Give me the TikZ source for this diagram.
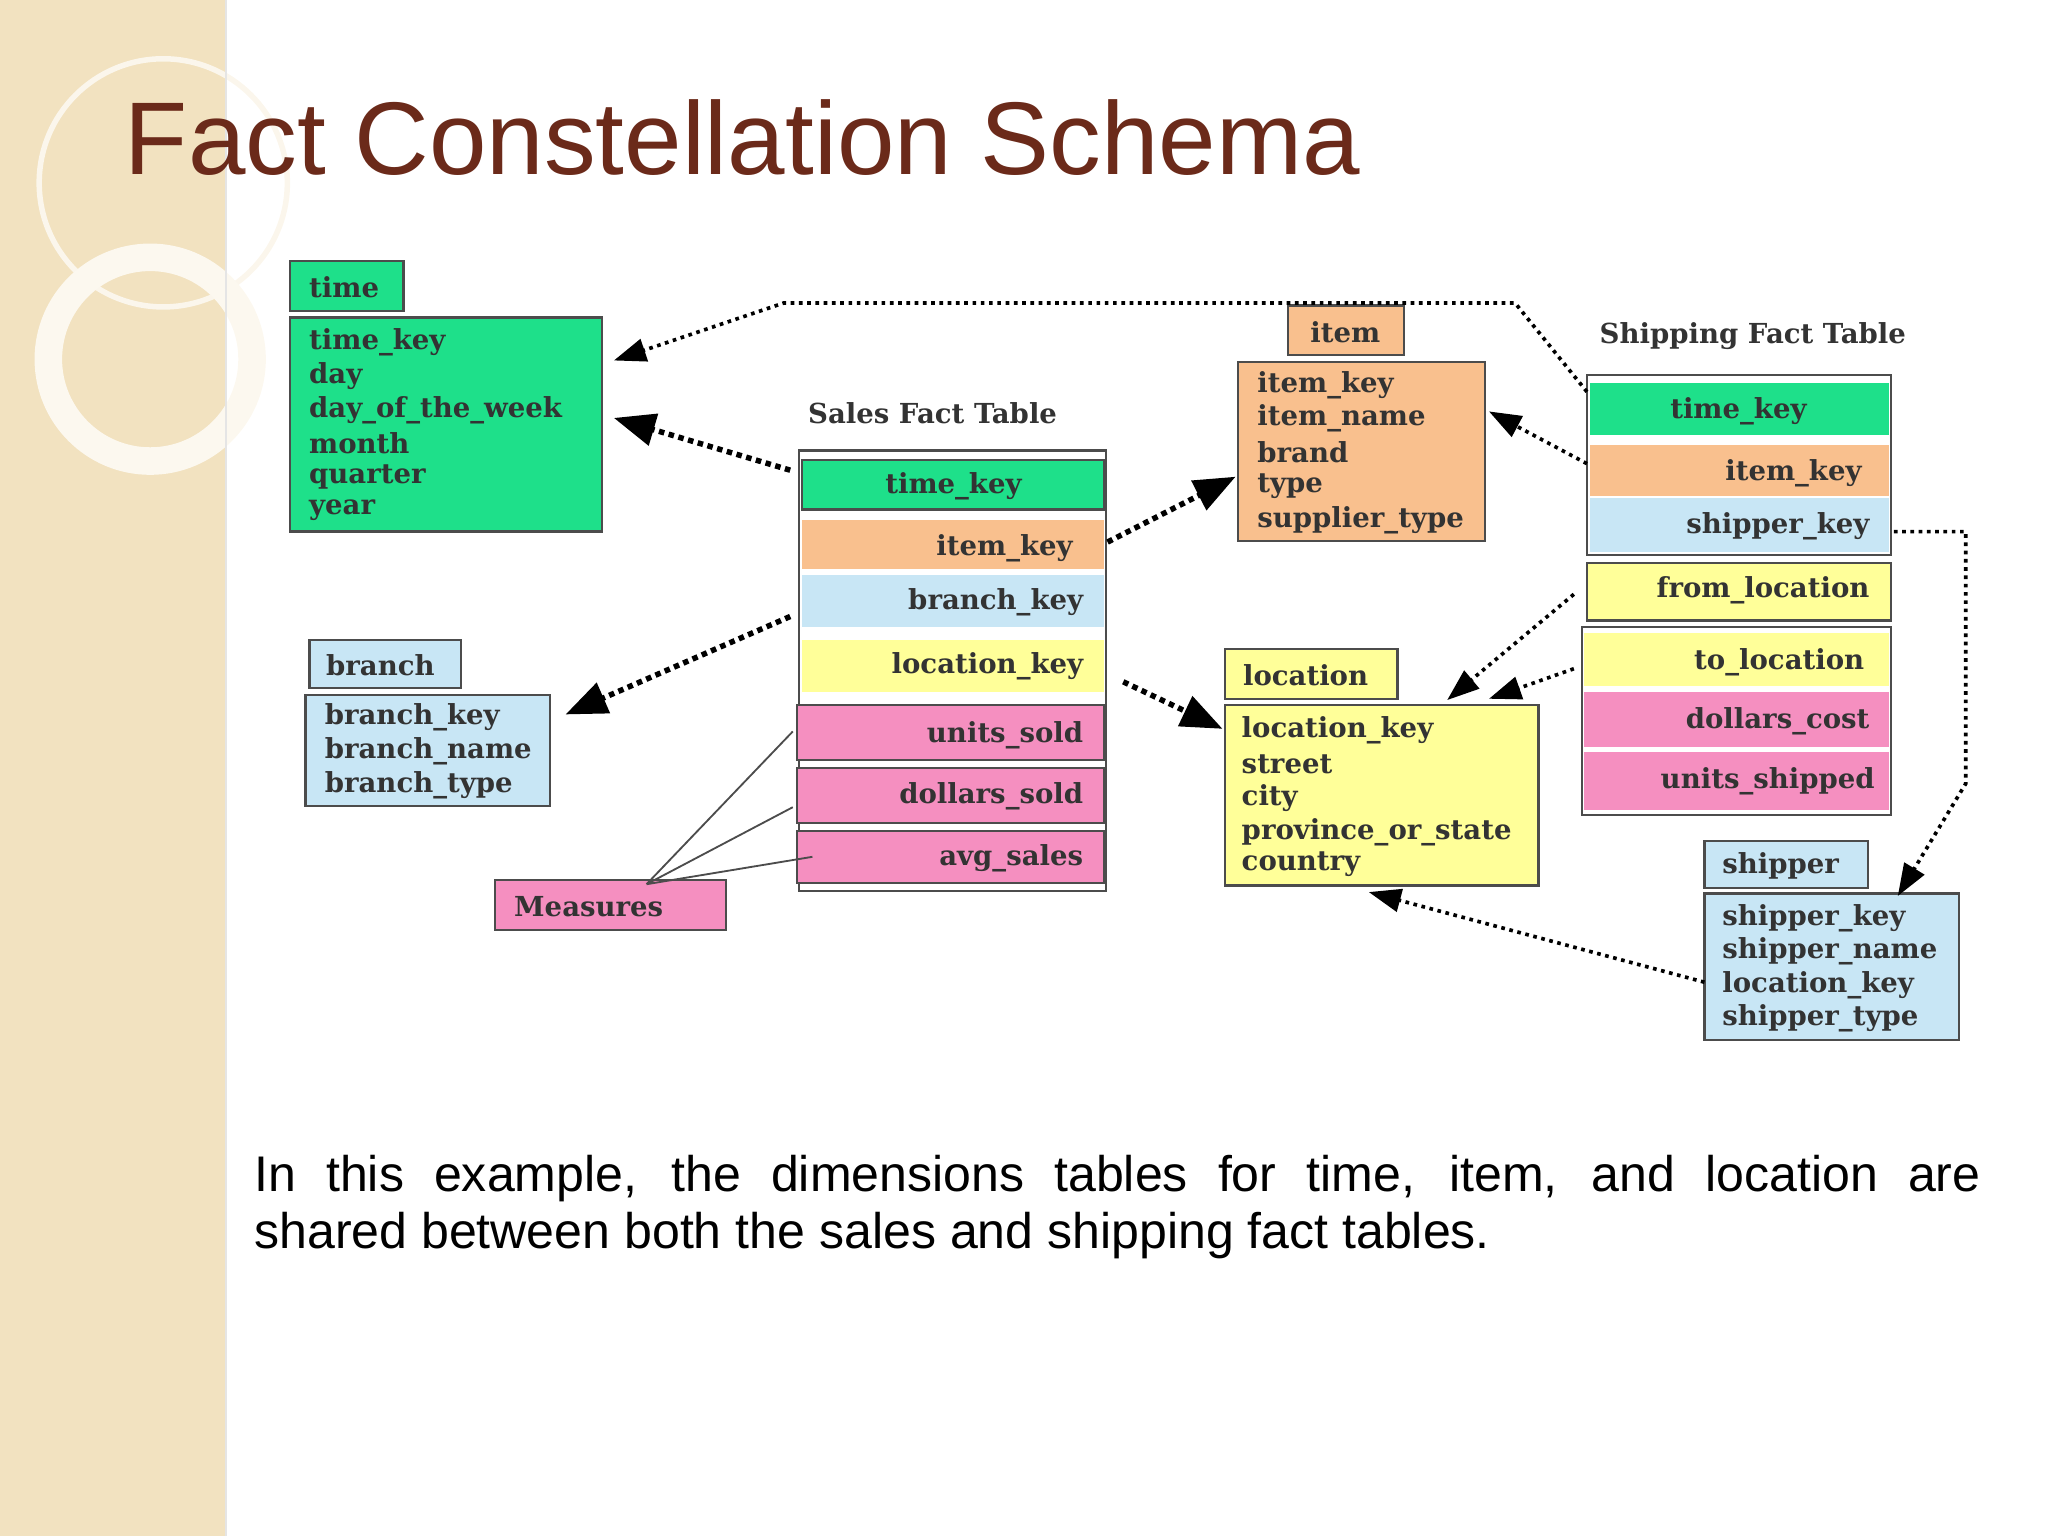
\documentclass[tikz,border=0pt]{standalone}
\usepackage{fontspec}
\setmainfont{Liberation Sans}
\newfontfamily\dfont{DejaVu Serif}
\usetikzlibrary{arrows.meta}
\definecolor{tgreen}{HTML}{1EE08A}
\definecolor{torange}{HTML}{F9C08E}
\definecolor{tblue}{HTML}{C8E6F5}
\definecolor{tyellow}{HTML}{FFFF99}
\definecolor{tpink}{HTML}{F58FC0}
\definecolor{titlec}{HTML}{6B2A1A}
\definecolor{beige}{HTML}{F2E2C0}
\begin{document}
\begin{tikzpicture}[x=0.01cm,y=-0.01cm,
 box/.style={draw=black!70,line width=0.5pt},
 txt/.style={font=\dfont\bfseries\fontsize{6}{7}\selectfont,text=black!80,anchor=west,inner sep=0},
 rtxt/.style={font=\dfont\bfseries\fontsize{6}{7}\selectfont,text=black!80,anchor=east,inner sep=0},
 ctxt/.style={font=\dfont\bfseries\fontsize{6}{7}\selectfont,text=black!80,inner sep=0},
 dar/.style={densely dotted,line width=1.2pt,-{Triangle[length=9pt,width=7pt]}},
 dar2/.style={densely dotted,line width=0.8pt,-{Triangle[length=7pt,width=5pt]}}]
\useasboundingbox (0,0) rectangle (1568,1176);
\fill[beige] (0,0) rectangle (173,1176);
\draw[white!70!beige,line width=1.2pt] (125,140) circle (95);
\draw[white!75!beige,line width=6pt] (115,275) circle (78);
\draw[black!10] (173,0) -- (173,1176);
\node[font=\fontsize{22.5}{26}\selectfont,text=titlec,anchor=west,inner sep=0] (title) at (95,105) {Fact Constellation Schema};
% time
\draw[box,fill=tgreen] (222,200) rectangle (309,238); \node[txt] (tl) at (236,220) {time};
\draw[box,fill=tgreen] (222,243) rectangle (461,407);
\node[txt] (t1) at (236,262) {time\_key};
\node[txt] at (236,288) {day};
\node[txt] at (236,314) {day\_of\_the\_week};
\node[txt] at (236,339) {month};
\node[txt] at (236,365) {quarter};
\node[txt] at (236,391) {year};
% sales
\node[ctxt] (sl) at (714,316) {Sales Fact Table};
\draw[box] (612,345) rectangle (847,682);
\draw[box,fill=tgreen] (614,352) rectangle (845,390); \node[ctxt] (s1) at (730,372) {time\_key};
\draw[draw=none,fill=torange] (614,398) rectangle (845,436); \node[rtxt] (s2) at (822,420) {item\_key};
\draw[draw=none,fill=tblue] (614,440) rectangle (845,480); \node[rtxt] (s3) at (830,461) {branch\_key};
\draw[draw=none,fill=tyellow] (614,490) rectangle (845,530); \node[rtxt] (s4) at (830,510) {location\_key};
\draw[box,fill=tpink] (610,540) rectangle (845,582); \node[rtxt] (s5) at (830,563) {units\_sold};
\draw[box,fill=tpink] (610,588) rectangle (845,630); \node[rtxt] (s6) at (830,610) {dollars\_sold};
\draw[box,fill=tpink] (610,636) rectangle (845,676); \node[rtxt] (s7) at (830,657) {avg\_sales};
% item
\draw[box,fill=torange] (986,234) rectangle (1075,272); \node[ctxt] at (1030,254) {item};
\draw[box,fill=torange] (948,277) rectangle (1137,414);
\node[txt] at (962,295) {item\_key};
\node[txt] at (962,320) {item\_name};
\node[txt] at (962,346) {brand};
\node[txt] at (962,372) {type};
\node[txt] at (962,398) {supplier\_type};
% shipping
\node[ctxt] at (1342,257) {Shipping Fact Table};
\draw[box] (1215,287) rectangle (1448,425);
\draw[draw=none,fill=tgreen] (1217,293) rectangle (1446,333); \node[ctxt] at (1331,315) {time\_key};
\draw[draw=none,fill=torange] (1217,341) rectangle (1446,380); \node[rtxt] at (1426,362) {item\_key};
\draw[draw=none,fill=tblue] (1217,381) rectangle (1446,423); \node[rtxt] at (1432,403) {shipper\_key};
\draw[box,fill=tyellow] (1215,431) rectangle (1448,475); \node[rtxt] at (1432,452) {from\_location};
\draw[box] (1211,480) rectangle (1448,624);
\draw[draw=none,fill=tyellow] (1213,485) rectangle (1446,525); \node[rtxt] at (1428,507) {to\_location};
\draw[draw=none,fill=tpink] (1213,530) rectangle (1446,572); \node[rtxt] at (1432,552) {dollars\_cost};
\draw[draw=none,fill=tpink] (1213,576) rectangle (1446,620); \node[rtxt] at (1436,598) {units\_shipped};
% branch
\draw[box,fill=tblue] (237,490) rectangle (353,527); \node[txt] at (249,509) {branch};
\draw[box,fill=tblue] (234,532) rectangle (421,617);
\node[txt] at (248,549) {branch\_key};
\node[txt] at (248,575) {branch\_name};
\node[txt] at (248,601) {branch\_type};
% location
\draw[box,fill=tyellow] (938,497) rectangle (1070,535); \node[txt] at (951,517) {location};
\draw[box,fill=tyellow] (938,540) rectangle (1178,678);
\node[txt] at (950,559) {location\_key};
\node[txt] at (950,585) {street};
\node[txt] at (950,611) {city};
\node[txt] at (950,637) {province\_or\_state};
\node[txt] at (950,662) {country};
% shipper
\draw[box,fill=tblue] (1305,644) rectangle (1430,680); \node[txt] at (1318,663) {shipper};
\draw[box,fill=tblue] (1305,684) rectangle (1500,796);
\node[txt] at (1318,703) {shipper\_key};
\node[txt] at (1318,728) {shipper\_name};
\node[txt] at (1318,754) {location\_key};
\node[txt] at (1318,780) {shipper\_type};
% measures
\draw[box,fill=tpink] (379,674) rectangle (556,712); \node[txt] (m) at (393,694) {Measures};
\draw[black!70,thin] (495,677) -- (607,560) (495,677) -- (607,618) (495,677) -- (622,656);
% arrows
\draw[dar2] (1215,300) -- (1160,232) -- (600,232) -- (470,276);
\draw[dar] (605,360) -- (470,320);
\draw[dar] (848,415) -- (946,365);
\draw[dar] (605,472) -- (433,547);
\draw[dar] (860,522) -- (936,558);
\draw[dar2] (1215,355) -- (1140,315);
\draw[dar2] (1450,407) -- (1505,407) -- (1505,600) -- (1453,686);
\draw[dar2] (1205,455) -- (1108,536);
\draw[dar2] (1205,512) -- (1140,535);
\draw[dar2] (1305,752) -- (1048,683);
% paragraph
\node[anchor=north west,inner sep=0,text width=13.21cm,align=justify,font=\fontsize{10.9}{12.4}\selectfont] (p) at (194,884) {In this example, the dimensions tables for time, item, and location are\linebreak shared between both the sales and shipping fact tables.};
\end{tikzpicture}
\end{document}
